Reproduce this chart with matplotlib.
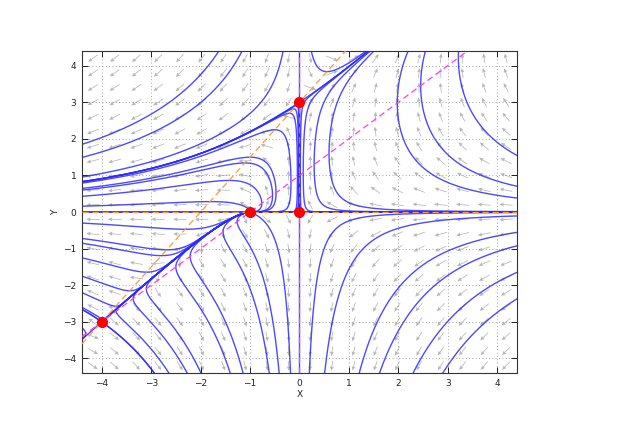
import numpy as np
import matplotlib
matplotlib.use('Agg')
import matplotlib.pyplot as plt

# system: x' = x*(y - x - 1),  y' = y*(1.5*x + 3 - y)
eq_x = [0, 0, -1, -4]
eq_y = [0, 3, 0, -3]

# nullclines y = x + 1 (x'=0) and y = 1.5*x + 3 (y'=0)
line_x = [-4.4, 4.4]

# trajectory seeds (each traced forward and backward)
seed_x = [0.24, 2.2, 2.55, 3.22, 0.08, 0.02, 0.3, 0.6,               # Q1
          0.2, 0.51, 1.21, 1.62, 2.3, 2.9,                          # Q4
          -1.63, -1.16, -0.33, -1.0, -0.5, -0.2, -0.12, -0.06,      # Q2
          -4.4, -4.4, -4.4,
          -4.4, -4.4, -4.4, -4.4, -4.4, -4.4, -4.4, -4.4, -4.4,     # Q3
          -2.64, -2.27, -1.99, -1.40, -1.14, -0.61, -0.41, -0.18,
          -3.9936, -4.0064, -3.9927, -4.0073, 0.01, -0.01]
seed_y = [4.4, 4.4, 4.4, 4.4, 1.5, 1.5, 1.5, 1.5,
          -4.4, -4.4, -4.4, -4.4, -4.4, -4.4,
          4.4, 4.4, 4.4, 1.5, 2.25, 2.7, 2.82, 2.91,
          0.16, 0.43, 0.6,
          -0.3, -0.72, -0.85, -1.25, -1.75, -2.2, -2.6, -3.16, -3.45,
          -4.4, -4.4, -4.4, -4.4, -4.4, -4.4, -4.4, -4.4,
          -2.9923, -3.0077, -3.0069, -2.9931, 3.009, 2.991]

grid_x = np.linspace(-4.18, 4.18, 20)
grid_y = np.linspace(-4.2, 4.2, 22)


def field(x, y):
    return x * (y - x - 1), y * (1.5 * x + 3 - y)


def trace(x0, y0, sign, ds=0.015, nmax=1500):
    def g(p):
        u, v = field(p[0], p[1])
        n = np.hypot(u, v)
        if n < 1e-12:
            return np.zeros(2)
        return sign * np.array([u, v]) / n
    p = np.array([x0, y0], float)
    pts = [p.copy()]
    for _ in range(nmax):
        k1 = g(p)
        k2 = g(p + 0.5 * ds * k1)
        k3 = g(p + 0.5 * ds * k2)
        k4 = g(p + ds * k3)
        p = p + ds / 6 * (k1 + 2 * k2 + 2 * k3 + k4)
        pts.append(p.copy())
        if abs(p[0]) > 4.6 or abs(p[1]) > 4.6:
            break
        if np.hypot(*field(p[0], p[1])) < 1e-5:
            break
        if sign < 0 and np.hypot(p[0] + 1, p[1]) < 0.02:
            pts.append(np.array([-1.0, 0.0]))
            break
    return np.array(pts)


fig = plt.figure(figsize=(6.23, 4.40), dpi=100)
ax = fig.add_axes([0.1316, 0.152, 0.698, 0.732])

gx, gy = np.meshgrid(grid_x, grid_y)
u, v = field(gx, gy)
n = np.hypot(u, v)
n[n == 0] = 1
ax.quiver(gx, gy, 0.27 * u / n, 0.27 * v / n, angles='xy', scale_units='xy',
          scale=1, pivot='middle', color='#b8b8b8', width=0.0018,
          headwidth=5, headlength=5.5, headaxislength=5, zorder=1)

for sx, sy in zip(seed_x, seed_y):
    fwd = trace(sx, sy, 1)
    bwd = trace(sx, sy, -1)
    pts = np.vstack([bwd[::-1], fwd[1:]])
    ax.plot(pts[:, 0], pts[:, 1], color='#2b2bff', lw=1.0, alpha=0.85, zorder=2)

# invariant axes
ax.plot(line_x, [0, 0], color='#2b2bff', lw=1.4, alpha=0.9, zorder=2)
ax.plot([0, 0], line_x, color='#2b2bff', lw=1.0, alpha=0.85, zorder=2)

lx = np.array(line_x)
ax.plot(lx, 1.5 * lx + 3, color='#ff9a3c', lw=0.9, ls=(0, (5, 3)), zorder=3)
ax.plot(lx, [0, 0], color='#ff9a3c', lw=0.9, ls=(0, (5, 3)), zorder=3)
ax.plot(lx, lx + 1, color='#ff40e0', lw=0.9, ls=(0, (5, 3)), zorder=3)
ax.plot([0, 0], lx, color='#ff40e0', lw=0.9, ls=(0, (5, 3)), zorder=3)

ax.plot(eq_x, eq_y, 'o', color='red', ms=7, zorder=4)

ax.set_xlim(-4.4, 4.4)
ax.set_ylim(-4.4, 4.4)
ax.set_xticks(range(-4, 5))
ax.set_yticks(range(-4, 5))
ax.tick_params(direction='in', top=True, right=True, length=4, width=0.6,
               labelsize=6.5, pad=4, labelcolor='#222222')
ax.grid(True, ls=(0, (1, 3)), color='#888888', lw=0.6)
for s in ax.spines.values():
    s.set_linewidth(0.8)
    s.set_color('#333333')
ax.set_xlabel('X', fontsize=6.5, labelpad=2, color='#222222')
ax.set_ylabel('Y', fontsize=6.5, labelpad=2, color='#222222')

fig.savefig('out.png', dpi=100)
